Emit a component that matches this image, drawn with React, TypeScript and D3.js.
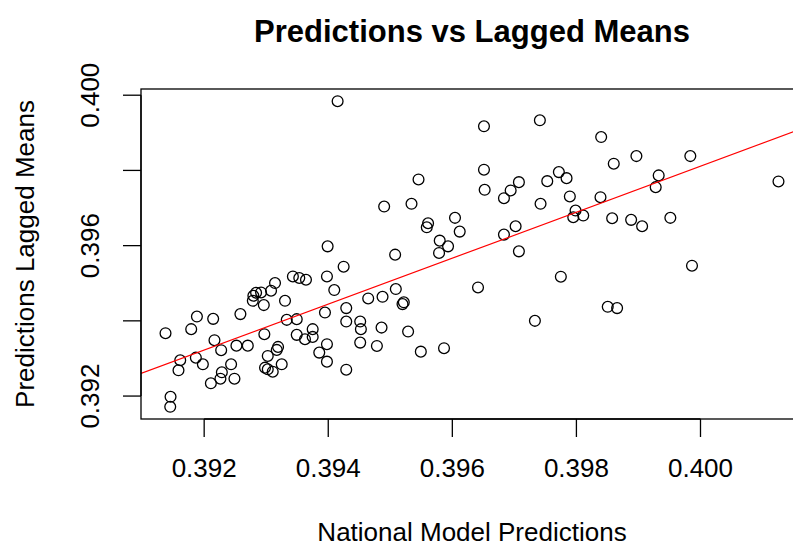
import React from "react";
import * as d3 from "d3";

// National model predictions (x) and lagged means (y)
const predictions: number[] = [
  0.391377, 0.391458, 0.391453, 0.391614, 0.391586, 0.391791, 0.391883, 0.391866, 0.391979, 0.392145,
  0.392166, 0.392274, 0.392108, 0.392262, 0.392285, 0.392434, 0.392488, 0.39252, 0.392584, 0.392703,
  0.392784, 0.392793, 0.392837, 0.392917, 0.392961, 0.393078, 0.393142, 0.39297, 0.393025, 0.39317,
  0.393191, 0.392981, 0.393025, 0.393105, 0.39325, 0.393303, 0.393331, 0.39343, 0.393533, 0.393641,
  0.393492, 0.393492, 0.393625, 0.393749, 0.393749, 0.393979, 0.394097, 0.393947, 0.393979, 0.393855,
  0.393979, 0.394248, 0.39429, 0.39429, 0.39429, 0.39399, 0.394151,
  0.39651, 0.397411, 0.395455, 0.39651, 0.396521, 0.396832, 0.39694, 0.397073, 0.39753, 0.397717,
  0.397422, 0.394901, 0.395342, 0.395609, 0.395588, 0.396043, 0.396119, 0.395797, 0.395931, 0.395786,
  0.395078, 0.396832, 0.39702, 0.397073,
  0.397749, 0.396414, 0.395089, 0.394875, 0.394644, 0.395197, 0.395218, 0.394515, 0.394526, 0.394859,
  0.395287, 0.394515, 0.394784, 0.395492, 0.395866, 0.397331,
  0.398399, 0.398967, 0.398602, 0.399836, 0.397841, 0.399326, 0.399278, 0.397894, 0.398388, 0.397986,
  0.397949, 0.39811, 0.398576, 0.398882, 0.399059, 0.399514, 0.401257,
  0.399863, 0.398505, 0.398656,
];

const laggedMeans: number[] = [
  0.393672, 0.391981, 0.391715, 0.392952, 0.392685, 0.393779, 0.394115, 0.393021, 0.392845, 0.394053,
  0.393485, 0.393219, 0.392339, 0.392461, 0.392632, 0.392845, 0.392461, 0.393341, 0.394179, 0.393341,
  0.394533, 0.394667, 0.394747, 0.394755, 0.394419, 0.3948, 0.395005, 0.393645, 0.393067, 0.393227,
  0.393307, 0.392755, 0.392712, 0.392648, 0.392845, 0.394533, 0.394027, 0.395181, 0.395139, 0.395093,
  0.394045, 0.393627, 0.393512, 0.393779, 0.393573, 0.395181, 0.394819, 0.394221, 0.393379, 0.393155,
  0.392915, 0.39544, 0.394339, 0.393981, 0.392701, 0.395981, 0.39984,
  0.399173, 0.399333, 0.39776, 0.398019, 0.397485, 0.397261, 0.397467, 0.397688, 0.397715, 0.397955,
  0.397112, 0.39704, 0.397112, 0.396595, 0.396488, 0.396739, 0.396373, 0.396133, 0.395981, 0.395805,
  0.39576, 0.396293, 0.396515, 0.395848,
  0.395173, 0.394888, 0.394845, 0.39464, 0.394595, 0.394445, 0.394493, 0.393981, 0.393779, 0.393821,
  0.393715, 0.393421, 0.393333, 0.393181, 0.393272, 0.394,
  0.398888, 0.398381, 0.398179, 0.398381, 0.397795, 0.397867, 0.397555, 0.397307, 0.397288, 0.396933,
  0.396755, 0.3968, 0.396728, 0.396685, 0.396515, 0.396739, 0.397707,
  0.395467, 0.394373, 0.394339,
];

// Fitted line (abline)
const fitIntercept = 0.153711;
const fitSlope = 0.611;

const xTicks: number[] = [0.392, 0.394, 0.396, 0.398, 0.4];
const xTickLabels: string[] = ["0.392", "0.394", "0.396", "0.398", "0.400"];
const yTicks: number[] = [0.392, 0.394, 0.396, 0.398, 0.4];
const yTickLabels: string[] = ["0.392", "", "0.396", "", "0.400"];

const title = "Predictions vs Lagged Means";
const xLabel = "National Model Predictions";
const yLabel = "Predictions Lagged Means";

const W = 793;
const H = 548;
const plot = { left: 141, right: 803, top: 89, bottom: 419 };
const FONT = "'Liberation Sans', Arial, Helvetica, sans-serif";

function padExtent(vals: number[]): [number, number] {
  const [a, b] = d3.extent(vals) as [number, number];
  const p = (b - a) * 0.04;
  return [a - p, b + p];
}

export default function App() {
  const x = d3.scaleLinear().domain(padExtent(predictions)).range([plot.left, plot.right]);
  const y = d3.scaleLinear().domain(padExtent(laggedMeans)).range([plot.bottom, plot.top]);
  const pts = predictions.map((p, i) => [p, laggedMeans[i]] as [number, number]);
  const [x0, x1] = x.domain();
  const line = d3.line<number>().x((v) => x(v)).y((v) => y(fitIntercept + fitSlope * v));
  const cx = (plot.left + plot.right) / 2;
  const cy = (plot.top + plot.bottom) / 2;
  const tickLen = 18;

  return (
    <svg
      width={W}
      height={H}
      viewBox={`0 0 ${W} ${H}`}
      style={{ position: "absolute", left: 0, top: 0, background: "#fff" }}
      fontFamily={FONT}
    >
      <rect x={0} y={0} width={W} height={H} fill="#fff" />
      <defs>
        <clipPath id="plotClip">
          <rect x={plot.left} y={plot.top} width={plot.right - plot.left} height={plot.bottom - plot.top} />
        </clipPath>
      </defs>
      <text x={cx} y={42} textAnchor="middle" fontSize={31} fontWeight="bold" fill="#000">
        {title}
      </text>
      <g clipPath="url(#plotClip)">
        {pts.map((d, i) => (
          <circle key={i} cx={x(d[0])} cy={y(d[1])} r={5.4} fill="none" stroke="#000" strokeWidth={1.3} />
        ))}
        <path d={line([x0, x1]) || ""} fill="none" stroke="#ff0000" strokeWidth={1.2} />
      </g>
      <rect
        x={plot.left}
        y={plot.top}
        width={plot.right - plot.left}
        height={plot.bottom - plot.top}
        fill="none"
        stroke="#000"
        strokeWidth={1.3}
      />
      {/* x axis */}
      <line x1={x(xTicks[0])} x2={x(xTicks[xTicks.length - 1])} y1={plot.bottom} y2={plot.bottom} stroke="#000" strokeWidth={1.3} />
      {xTicks.map((t, i) => (
        <g key={i}>
          <line x1={x(t)} x2={x(t)} y1={plot.bottom} y2={plot.bottom + tickLen} stroke="#000" strokeWidth={1.3} />
          <text x={x(t)} y={477} textAnchor="middle" fontSize={26} fill="#000">
            {xTickLabels[i]}
          </text>
        </g>
      ))}
      <text x={cx} y={541} textAnchor="middle" fontSize={26} fill="#000">
        {xLabel}
      </text>
      {/* y axis */}
      <line x1={plot.left} x2={plot.left} y1={y(yTicks[0])} y2={y(yTicks[yTicks.length - 1])} stroke="#000" strokeWidth={1.3} />
      {yTicks.map((t, i) => (
        <g key={i}>
          <line x1={plot.left - tickLen} x2={plot.left} y1={y(t)} y2={y(t)} stroke="#000" strokeWidth={1.3} />
          {yTickLabels[i] && (
            <text transform={`translate(99,${y(t)}) rotate(-90)`} textAnchor="middle" fontSize={26} fill="#000">
              {yTickLabels[i]}
            </text>
          )}
        </g>
      ))}
      <text transform={`translate(34,${cy}) rotate(-90)`} textAnchor="middle" fontSize={26} fill="#000">
        {yLabel}
      </text>
    </svg>
  );
}
